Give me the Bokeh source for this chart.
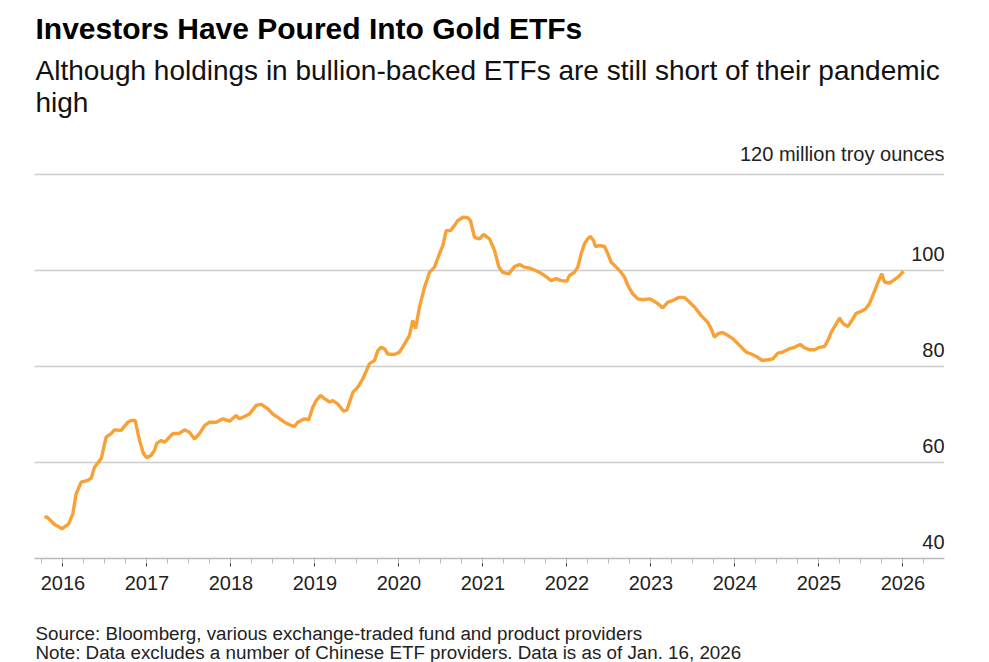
from bokeh.plotting import figure
from bokeh.models import FixedTicker, Range1d
from bokeh.layouts import column
from bokeh.embed import file_html
from bokeh.resources import INLINE
from bokeh.core.properties import value

# ---------------- data ----------------
dates = [
    2015.781, 2015.808, 2015.900, 2015.992, 2016.070, 2016.118, 2016.158, 2016.218,
    2016.296, 2016.337, 2016.376, 2016.456, 2016.515, 2016.575, 2016.614, 2016.694,
    2016.773, 2016.813, 2016.861, 2016.912, 2016.960, 2016.999, 2017.051, 2017.090,
    2017.118, 2017.170, 2017.210, 2017.269, 2017.308, 2017.388, 2017.448, 2017.507,
    2017.567, 2017.626, 2017.686, 2017.745, 2017.825, 2017.904, 2017.983, 2018.063,
    2018.102, 2018.162, 2018.221, 2018.301, 2018.361, 2018.439, 2018.499, 2018.558,
    2018.638, 2018.698, 2018.757, 2018.796, 2018.876, 2018.927, 2018.975, 2019.015,
    2019.067, 2019.114, 2019.174, 2019.213, 2019.273, 2019.340, 2019.380, 2019.451,
    2019.511, 2019.570, 2019.650, 2019.710, 2019.749, 2019.789, 2019.829, 2019.868,
    2019.948, 2020.007, 2020.067, 2020.126, 2020.165, 2020.198, 2020.245, 2020.305,
    2020.364, 2020.424, 2020.483, 2020.523, 2020.563, 2020.614, 2020.662, 2020.701,
    2020.761, 2020.820, 2020.852, 2020.900, 2020.960, 2021.007, 2021.079, 2021.138,
    2021.189, 2021.237, 2021.308, 2021.376, 2021.436, 2021.495, 2021.555, 2021.614,
    2021.674, 2021.733, 2021.813, 2021.873, 2021.932, 2021.999, 2022.031, 2022.090,
    2022.130, 2022.170, 2022.210, 2022.249, 2022.277, 2022.317, 2022.340, 2022.388,
    2022.448, 2022.487, 2022.527, 2022.587, 2022.646, 2022.686, 2022.725, 2022.785,
    2022.844, 2022.904, 2022.983, 2023.023, 2023.082, 2023.142, 2023.201, 2023.261,
    2023.332, 2023.400, 2023.460, 2023.519, 2023.599, 2023.677, 2023.718, 2023.757,
    2023.796, 2023.849, 2023.915, 2023.975, 2024.055, 2024.135, 2024.194, 2024.254,
    2024.325, 2024.392, 2024.451, 2024.511, 2024.570, 2024.650, 2024.710, 2024.777,
    2024.829, 2024.888, 2024.948, 2025.007, 2025.067, 2025.106, 2025.146, 2025.206,
    2025.245, 2025.285, 2025.344, 2025.404, 2025.444, 2025.504, 2025.555, 2025.602,
    2025.642, 2025.689, 2025.721, 2025.749, 2025.781, 2025.840, 2025.900, 2025.939,
    2025.980, 2026.007,
]
holdings = [
    48.5, 48.7, 47.1, 46.2, 47.2, 49.3, 53.5, 55.9,
    56.3, 56.7, 59.0, 60.8, 65.3, 66.0, 66.8, 66.7,
    68.4, 68.75, 68.75, 64.6, 61.8, 61.0, 61.5, 62.5,
    64.0, 64.6, 64.2, 65.3, 66.0, 66.1, 66.8, 66.3,
    64.9, 66.0, 67.7, 68.4, 68.4, 69.1, 68.6, 69.8,
    69.1, 69.6, 70.1, 71.9, 72.1, 71.2, 70.1, 69.4,
    68.4, 67.85, 67.5, 68.4, 69.1, 68.9, 71.5, 72.9,
    74.0, 73.3, 72.6, 72.9, 72.2, 70.7, 70.9, 74.6,
    75.7, 77.4, 80.6, 81.25, 83.3, 84.0, 83.7, 82.6,
    82.5, 83.0, 84.7, 86.5, 89.6, 87.85, 92.4, 96.5,
    99.6, 100.7, 103.5, 105.2, 108.3, 108.3, 109.4, 110.4,
    111.1, 111.0, 110.4, 106.9, 106.6, 107.5, 106.6, 104.2,
    100.8, 99.6, 99.3, 100.8, 101.25, 100.7, 100.5, 100.1,
    99.6, 98.96, 97.9, 98.3, 97.9, 97.8, 98.96, 99.6,
    100.7, 103.5, 105.6, 106.6, 107.1, 106.25, 105.0, 105.2,
    105.0, 103.5, 101.7, 100.7, 99.6, 98.6, 96.9, 95.1,
    94.1, 93.9, 94.1, 93.75, 93.1, 92.2, 93.4, 93.75,
    94.4, 94.4, 93.4, 92.4, 90.6, 89.2, 87.85, 86.1,
    86.8, 87.1, 86.5, 85.8, 84.4, 83.0, 82.6, 82.1,
    81.25, 81.4, 81.6, 82.8, 83.0, 83.7, 84.0, 84.6,
    83.9, 83.5, 83.5, 84.0, 84.2, 85.4, 87.1, 88.9,
    90.1, 89.0, 88.3, 89.9, 91.1, 91.5, 92.0, 93.1,
    94.8, 96.9, 98.3, 99.3, 97.6, 97.4, 98.1, 98.6,
    99.3, 99.85,
]

year_ticks = [2016, 2017, 2018, 2019, 2020, 2021, 2022, 2023, 2024, 2025, 2026]
year_labels = ["2016", "2017", "2018", "2019", "2020", "2021", "2022", "2023", "2024", "2025", "2026"]
quarter_ticks = [2015.75 + 0.25 * i for i in range(44)]
y_ticks = [40, 60, 80, 100, 120]
y_labels = ["40", "60", "80", "100", "120 million troy ounces"]

title_text = "Investors Have Poured Into Gold ETFs"
subtitle_lines = ["Although holdings in bullion-backed ETFs are still short of their pandemic", "high"]
footer_lines = ["Source: Bloomberg, various exchange-traded fund and product providers",
                "Note: Data excludes a number of Chinese ETF providers. Data is as of Jan. 16, 2026"]

# ---------------- styling / layout ----------------
FONT = "Liberation Sans"
ORANGE = "#F8A137"
W = 973
LEFT, RIGHT = 34, 29
FRAME_W = W - LEFT - RIGHT
HEADER_H, CHART_H, FOOTER_H = 138, 464, 60
X_START, X_END = 2015.662, 2026.495


def text_panel(height):
    # a plain panel whose data units are pixels: x from the frame's left edge, y down from the top
    f = figure(width=W, height=height, output_backend="svg", toolbar_location=None,
               x_range=Range1d(0, FRAME_W), y_range=Range1d(height, 0),
               x_axis_location=None, y_axis_location=None, title=None,
               min_border_left=LEFT, min_border_right=RIGHT, min_border_top=0, min_border_bottom=0)
    f.grid.visible = False
    f.outline_line_color = None
    f.background_fill_color = "white"
    f.border_fill_color = "white"
    return f


# header: title + two-line subtitle
header = text_panel(HEADER_H)
header.text(x=[1], y=[27.5], text=[title_text], text_baseline="middle",
            text_font=value(FONT), text_font_size="30px", text_font_style="bold",
            text_color="#000000")
header.text(x=[1, 1], y=[69.5, 101.5], text=subtitle_lines, text_baseline="middle",
            text_font=value(FONT), text_font_size="28px", text_color="#111111")

# main chart
p = figure(
    width=W, height=CHART_H, output_backend="svg", toolbar_location=None,
    x_range=Range1d(X_START, X_END), y_range=Range1d(40, 127.5),
    y_axis_location=None, title=None,
    min_border_left=LEFT, min_border_right=RIGHT, min_border_top=0, min_border_bottom=44,
)
p.outline_line_color = None
p.background_fill_color = "white"
p.border_fill_color = "white"

p.xgrid.visible = False
p.ygrid.ticker = FixedTicker(ticks=y_ticks)
p.ygrid.grid_line_color = "#cccccc"
p.ygrid.grid_line_width = 1.5

ax = p.xaxis[0]
ax.ticker = FixedTicker(ticks=year_ticks, minor_ticks=quarter_ticks)
ax.major_label_overrides = {t: l for t, l in zip(year_ticks, year_labels)}
ax.axis_line_color = "#bbbbbb"
ax.axis_line_width = 1.5
ax.major_tick_line_color = "#333333"
ax.major_tick_out = 8
ax.major_tick_in = 0
ax.minor_tick_line_color = "#bbbbbb"
ax.minor_tick_out = 5
ax.minor_tick_in = 0
ax.major_label_text_font = FONT
ax.major_label_text_font_size = "20px"
ax.major_label_text_color = "#222222"
ax.major_label_standoff = 9

p.line(dates, holdings, line_color=ORANGE, line_width=3.4)

p.text(x=[X_END] * len(y_ticks), y=y_ticks, text=y_labels,
       text_align="right", text_baseline="bottom", y_offset=-10,
       text_font=value(FONT), text_font_size="20px", text_color="#222222")

# footer: source + note
footer = text_panel(FOOTER_H)
footer.text(x=[1, 1], y=[31, 50], text=footer_lines, text_baseline="middle",
            text_font=value(FONT), text_font_size="18.8px", text_color="#222222")

layout = column(header, p, footer, spacing=0)
open("out.html", "w").write(file_html(layout, INLINE))
